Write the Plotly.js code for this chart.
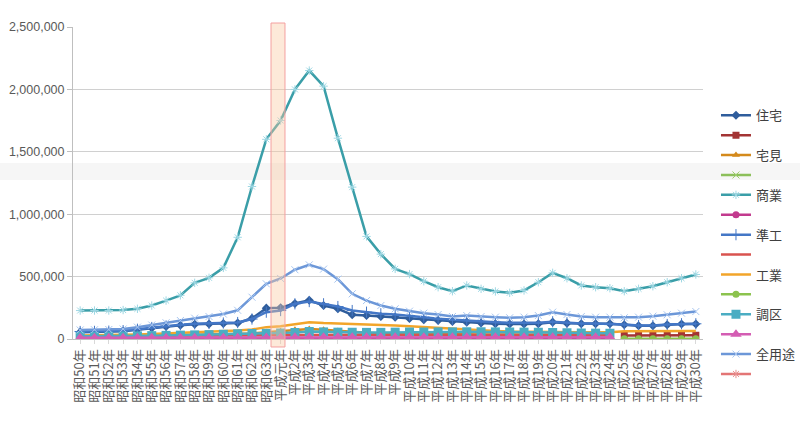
<!DOCTYPE html>
<html>
<head>
<meta charset="utf-8">
<script src="https://cdn.plot.ly/plotly-3.0.1.min.js"></script>
<style>html,body{margin:0;padding:0;background:#fff;}#chart{width:800px;height:427px;}</style>
</head>
<body>
<div id="chart"></div>
<script>
// Categories
const showaYears = ['昭和50年','昭和51年','昭和52年','昭和53年','昭和54年','昭和55年','昭和56年','昭和57年','昭和58年','昭和59年','昭和60年','昭和61年','昭和62年','昭和63年'];
const heiseiYears = ['平成元年','平成2年','平成3年','平成4年','平成5年','平成6年','平成7年','平成8年','平成9年','平成10年','平成11年','平成12年','平成13年','平成14年','平成15年','平成16年','平成17年','平成18年','平成19年','平成20年','平成21年','平成22年','平成23年','平成24年','平成25年','平成26年','平成27年','平成28年','平成29年','平成30年'];
const categories = showaYears.concat(heiseiYears);

// Series values
const jutaku = [55000,56000,58000,62000,75000,88000,100000,110000,118000,120000,124000,128000,165000,247000,250000,285000,310000,268000,242000,194000,188000,180000,175000,165000,155000,148000,140000,135000,128000,122000,120000,120000,122000,135000,127000,122000,122000,122000,114000,106000,106000,114000,120000,120000];
const series2 = [null,null,null,null,null,null,null,null,null,null,null,null,null,null,null,null,null,null,null,null,null,null,null,null,null,null,null,null,null,null,null,null,null,null,null,null,null,null,28000,29000,29000,30000,30000,30000];
const takumi = [20000,20000,21000,22000,24000,27000,29000,31000,33000,35000,37000,40000,45000,55000,62000,75000,80000,75000,65000,55000,50000,45000,43000,42000,41000,40000,39000,38000,37000,36000,36000,35000,35000,35000,35000,34000,34000,34000,null,null,null,null,null,null];
const series4 = [5000,5000,5000,5000,5000,5000,5000,5000,5000,5000,5000,5000,5000,5000,5000,5000,5000,5000,5000,5000,5000,5000,5000,5000,5000,5000,5000,5000,5000,5000,5000,5000,5000,5000,5000,5000,5000,5000,null,null,null,null,null,null];
const shogyo = [228000,228000,228000,232000,242000,268000,308000,350000,450000,490000,570000,815000,1222000,1600000,1751000,2000000,2151000,2026000,1609000,1217000,822000,680000,562000,520000,463000,415000,383000,429000,402000,381000,370000,389000,455000,530000,487000,429000,415000,407000,383000,402000,423000,455000,487000,517000];
const series6 = [8000,8000,8000,8000,8000,8000,8000,8000,8000,8000,8000,8000,8000,8000,8000,8000,8000,8000,8000,8000,8000,8000,8000,8000,8000,8000,8000,8000,8000,8000,8000,8000,8000,8000,8000,8000,8000,8000,null,null,null,null,null,null];
const junko = [60000,61000,63000,67000,78000,92000,104000,114000,122000,124000,128000,132000,160000,215000,228000,282000,300000,282000,260000,228000,215000,202000,196000,188000,175000,162000,154000,148000,140000,135000,130000,130000,130000,138000,130000,125000,124000,123000,116000,108000,108000,116000,122000,122000];
const series8 = [22000,22000,23000,23000,24000,25000,26000,27000,28000,29000,30000,31000,32000,33000,34000,36000,38000,37000,36000,35000,34000,34000,34000,33000,33000,33000,32000,32000,32000,31000,31000,31000,30000,30000,30000,30000,30000,30000,null,null,null,null,null,null];
const kogyo = [28000,29000,30000,32000,36000,40000,44000,48000,55000,58000,62000,68000,76000,95000,103000,122000,135000,128000,125000,120000,116000,112000,108000,103000,96000,88000,80000,74000,68000,64000,60000,58000,56000,56000,55000,55000,55000,55000,62000,62000,62000,63000,63000,64000];
const series10 = [null,null,null,null,null,null,null,null,null,null,null,null,null,null,null,null,null,null,null,null,null,null,null,null,null,null,null,null,null,null,null,null,null,null,null,null,null,null,3000,3000,3000,3000,3000,3000];
const choku = [22000,22000,23000,24000,25000,27000,29000,31000,33000,35000,38000,42000,44000,45000,48000,52000,60000,57000,55000,54000,53000,53000,55000,56000,56000,57000,57000,58000,58000,57000,56000,55000,54000,52000,50000,48000,47000,46000,null,null,null,null,null,null];
const series12 = [10000,10000,10000,10000,10000,10000,10000,10000,10000,10000,11000,11000,12000,12000,13000,14000,15000,15000,15000,15000,15000,15000,15000,15000,15000,15000,15000,15000,15000,15000,15000,15000,15000,15000,15000,15000,15000,15000,null,null,null,null,null,null];
const zenyoto = [72000,74000,76000,80000,95000,112000,130000,148000,167000,180000,200000,230000,335000,442000,485000,555000,594000,560000,480000,362000,308000,268000,242000,223000,207000,196000,180000,188000,180000,175000,170000,175000,188000,215000,196000,180000,175000,175000,170000,175000,183000,194000,207000,220000];
const series14 = categories.map(() => null);

const seriesNames = ['住宅','','宅見','','商業','','準工','','工業','','調区','','全用途',''];
const seriesData = [jutaku,series2,takumi,series4,shogyo,series6,junko,series8,kogyo,series10,choku,series12,zenyoto,series14];
const seriesColors = ['#2f5d9c','#a33434','#d48a1c','#8cbf5a','#3a9ea8','#c23a8e','#4477c6','#d9534f','#f2a52a','#8cc34e','#4badc3','#d45db3','#6c97d8','#e37575'];
const markerColors = ['#2f5d9c','#a33434','#d48a1c','#9ccc6a','#9fd8e4','#c23a8e','#4477c6','#d9534f','#f2a52a','#8cc34e','#4badc3','#d45db3','#a8c6f0','#e89090'];
const markerSymbols = ['diamond','square','triangle-up','x-thin-open','asterisk-open','circle','cross-thin-open',null,null,'circle','square','triangle-up','x-thin-open','asterisk-open'];
const markerSizes = [7,7,7,7,7,7,8,0,0,7,9,10,7,7];

const traces = seriesData.map((vals, i) => {
  const sym = markerSymbols[i];
  const t = {
    type: 'scatter',
    x: categories,
    y: vals,
    name: seriesNames[i],
    mode: sym ? 'lines+markers' : 'lines',
    line: {color: seriesColors[i], width: 2.5},
    hoverinfo: 'x+y+name'
  };
  if (sym) {
    t.marker = {symbol: sym, size: markerSizes[i], color: markerColors[i],
      line: {color: markerColors[i], width: sym.indexOf('open') >= 0 ? 1 : 0}};
  }
  return t;
});

const layout = {
  width: 800, height: 427,
  margin: {l: 73, r: 97, t: 27, b: 88, autoexpand: false},
  paper_bgcolor: '#ffffff',
  plot_bgcolor: 'rgba(0,0,0,0)',
  showlegend: true,
  font: {family: '"Noto Sans CJK JP", "Liberation Sans", sans-serif', color: '#595959'},
  xaxis: {
    type: 'category',
    range: [-0.5, categories.length - 0.5],
    tickmode: 'array',
    tickvals: categories,
    ticktext: categories,
    tickangle: -90,
    tickfont: {family: '"Noto Sans CJK JP", sans-serif', size: 13, color: '#595959'},
    showline: true, linecolor: '#bfbfbf', linewidth: 1,
    ticks: 'outside', ticklen: 4, tickcolor: '#d9d9d9',
    showgrid: false, zeroline: false, fixedrange: true, automargin: false
  },
  yaxis: {
    range: [0, 2500000],
    dtick: 500000,
    tickformat: ',d',
    tickfont: {family: '"Liberation Sans", Arial, sans-serif', size: 12.5, color: '#595959'},
    showline: true, linecolor: '#bfbfbf', linewidth: 1,
    ticks: 'outside', ticklen: 5, tickcolor: '#bfbfbf',
    showgrid: true, gridcolor: '#d0d0d0', gridwidth: 1,
    zeroline: false, fixedrange: true, automargin: false
  },
  legend: {
    x: 1.0206, xanchor: 'left', y: 0.765, yanchor: 'top',
    bgcolor: 'rgba(0,0,0,0)',
    font: {family: '"Noto Sans CJK JP", sans-serif', size: 13, color: '#404040'},
    tracegroupgap: 0
  },
  shapes: [
    {type: 'rect', xref: 'paper', yref: 'paper', x0: -0.2, x1: 1.3, y0: 0.5096, y1: 0.564,
      fillcolor: '#f6f6f6', line: {width: 0}, layer: 'below'},
    {type: 'rect', xref: 'paper', yref: 'paper', x0: 0.3143, x1: 0.3365, y0: -0.0256, y1: 1.0128,
      fillcolor: 'rgba(250,200,160,0.4)', line: {color: '#f4a0a0', width: 1}, layer: 'above'}
  ]
};

Plotly.newPlot('chart', traces, layout, {displayModeBar: false, staticPlot: true});
</script>
</body>
</html>
